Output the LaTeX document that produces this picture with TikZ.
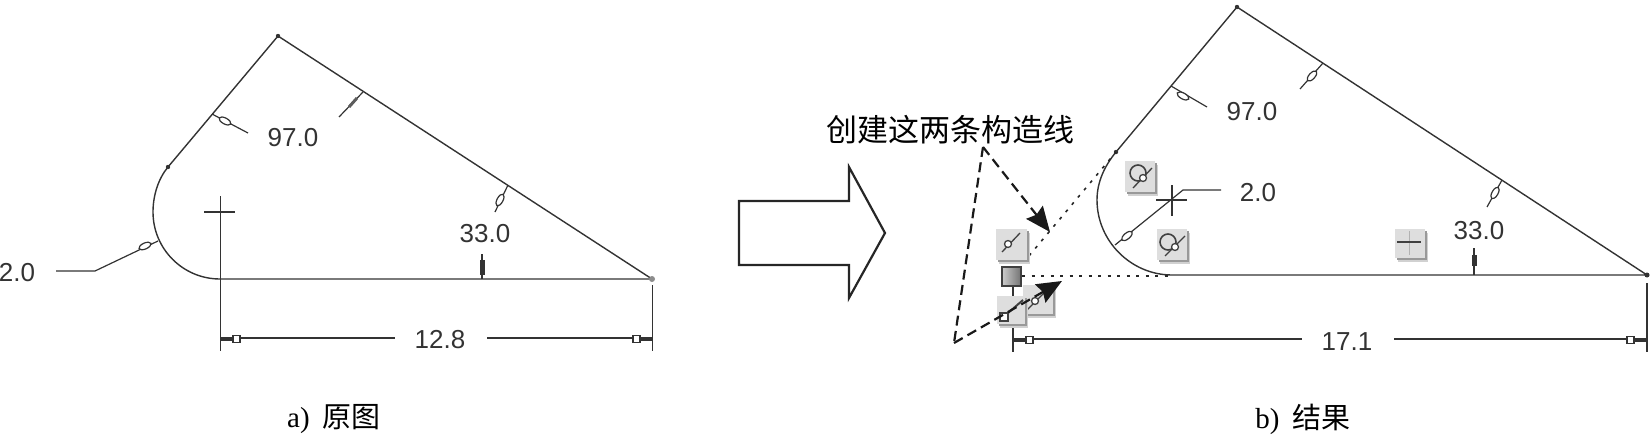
\documentclass[tikz,border=0pt]{standalone}
\usepackage{fontspec}
\setmainfont{Liberation Serif}
\newfontfamily\cadfont{Liberation Sans}
\newfontfamily\cjk{Noto Sans CJK SC}
\usetikzlibrary{arrows.meta}
\definecolor{cadline}{gray}{0.2}
\tikzset{
	outline/.style={line width=1.4pt, color=cadline},
	leader/.style={line width=1.2pt, color=cadline},
	cadtext/.style={font=\cadfont\fontsize{26}{30}\selectfont, color=cadline, inner sep=0pt},
	captext/.style={font=\fontsize{29}{34}\selectfont, inner sep=0pt},
	conline/.style={line width=1.6pt, color=black!85, dash pattern=on 3pt off 6.5pt},
	callout/.style={line width=2.2pt, color=black!90, dash pattern=on 10pt off 5.5pt},
	bigtip/.style={-{Stealth[length=25pt,width=21pt,inset=3pt]}},
	iconmark/.style={line width=1.3pt, color=black!75}
}
% small open mark on a leader
\def\openmark(#1,#2)[#3]{\draw[leader, fill=white, rotate around={-#3:(#1,#2)}] (#1,#2) ellipse (6.5 and 3);}
% grey icon with a soft shadow
\def\iconbox(#1,#2)(#3,#4){\fill[black!18] (#1+3,#2+4) rectangle (#3+3,#4+4); \fill[black!40] (#1+1.5,#2+2) rectangle (#3+1.5,#4+2); \fill[black!13] (#1,#2) rectangle (#3,#4);}
% dimension end: thick bar, then open box
\def\dimend(#1,#2)[#3]{\draw[line width=3pt, color=cadline] (#1,#2) -- ++(#3*12,0); \draw[leader, fill=white] (#1+#3*12,#2-3.5) rectangle (#1+#3*19,#2+3.5);}

\begin{document}
\begin{tikzpicture}[x=1pt, y=-1pt]
	\useasboundingbox (0,0) rectangle (1651,434);
	
	%%%%% a) %%%%%
	\draw[outline] (652,279) -- (278,36) -- (168,167) .. controls (158,179) and (153,196) .. (153,212) .. controls (153,249) and (183,279) .. (220,279) -- cycle;
	\fill[cadline] (278,36) circle (2.2);
	\fill[cadline] (168,167) circle (2.2);
	\fill[black!45] (652,279) circle (3);
	
	\draw[outline] (220.5,196) -- (220.5,351);
	\draw[outline] (204,212) -- (235,212);
	\draw[outline] (652.5,285) -- (652.5,351);
	\draw[leader] (221,338) -- (395,338);
	\draw[leader] (487,338) -- (652,338);
	\dimend(221,339)[1]
	\dimend(652,339)[-1]
	\node[cadtext] (lenA) at (440,340) {12.8};
	
	\draw[leader] (212,114) -- (248,133);
	\openmark(225,121)[28]
	\node[cadtext] (angA) at (293,138) {97.0};
	\draw[leader] (363,92) -- (339,117);
	\draw[line width=3pt, color=cadline!80] (357,98) -- (349,107);
	
	\draw[leader] (482,279) -- (482,254);
	\draw[line width=5pt, color=cadline] (482,260) -- (482,275);
	\node[cadtext] (angB) at (485,234) {33.0};
	\draw[leader] (508,185) -- (495,212);
	\openmark(500,200)[-62]
	
	\draw[leader] (56,271) -- (95,271) -- (158,241);
	\openmark(145,246)[-24]
	\node[cadtext] (radA) at (17,273) {2.0};
	
	\node[captext] (capA) at (334,419) {a)\hspace{0.45em}{\cjk 原图}};
	
	%%%%% ARROW %%%%%
	\draw[line width=2.2pt, color=black!85, line join=miter] (739,201) -- (849,201) -- (849,167) -- (885,233) -- (849,298) -- (849,265) -- (739,265) -- cycle;
	
	%%%%% b) %%%%%
	\draw[outline] (1647,275) -- (1237,7) -- (1116,152) .. controls (1104.5,166) and (1097,182) .. (1097,200) .. controls (1097,241) and (1131,275) .. (1172,275) -- cycle;
	\fill[cadline] (1237,7) circle (2.2);
	\fill[cadline] (1116,152) circle (2.2);
	\fill[cadline] (1647,275) circle (2.5);
	
	\draw[conline] (1022,276) -- (1172,276);
	\draw[conline] (1023,263) -- (1116,152);
	
	\draw[outline] (1013,285) -- (1013,352);
	\draw[outline] (1647,283) -- (1647,352);
	\draw[outline] (1156,200) -- (1187,200);
	\draw[outline] (1172,185) -- (1172,216);
	\draw[leader] (1013,339) -- (1302,339);
	\draw[leader] (1394,339) -- (1647,339);
	\dimend(1014,340)[1]
	\dimend(1646,340)[-1]
	\node[cadtext] (lenB) at (1347,342) {17.1};
	
	\draw[leader] (1171,86) -- (1207,107);
	\openmark(1183,96)[28]
	\node[cadtext] (angC) at (1252,112) {97.0};
	\draw[leader] (1323,63) -- (1300,89);
	\openmark(1312,76)[-48]
	
	\draw[leader] (1474,275) -- (1474,248);
	\draw[line width=5pt, color=cadline] (1474,255) -- (1474,266);
	\node[cadtext] (angD) at (1479,231) {33.0};
	\draw[leader] (1502,180) -- (1487,207);
	\openmark(1495,193)[-60]
	
	\draw[leader] (1221,190) -- (1183,190) -- (1115,245);
	\openmark(1127,236)[-40]
	\node[cadtext] (radB) at (1258,193) {2.0};
	
	% icons
	\iconbox(996,229)(1027,260)
	\draw[iconmark] (1002,252) -- (1020,233);
	\draw[iconmark, fill=white] (1008,244) circle (3.5);
	
	\draw[line width=2pt, color=black!75, left color=black!20, right color=black!55] (1002,267) rectangle (1021,286);
	
	\iconbox(1023,285)(1053,314)
	\draw[iconmark] (1027,310) -- (1045,292);
	\draw[iconmark, fill=white] (1035,301) circle (3.5);
	\iconbox(997,296)(1025,324)
	\draw[iconmark, line width=2pt] (1008,313) -- (1023,300);
	\draw[iconmark, fill=white] (1000,313) rectangle (1008,321);
	
	\iconbox(1125,161)(1155,192)
	\draw[iconmark, line width=1.6pt] (1138,173) circle (8);
	\draw[iconmark] (1133,188) -- (1152,168);
	\draw[iconmark, fill=white] (1143,178) circle (3.5);
	
	\iconbox(1157,229)(1187,260)
	\draw[iconmark, line width=1.6pt] (1168,242) circle (8);
	\draw[iconmark] (1165,256) -- (1185,236);
	\draw[iconmark, fill=white] (1175,247) circle (3.5);
	
	\iconbox(1395,229)(1425,258)
	\draw[line width=1pt, color=black!30] (1409,231) -- (1409,255);
	\draw[line width=1.8pt, color=black!75] (1397,242) -- (1421,242);
	
	% callout
	\node[inner sep=0pt, font=\cjk\fontsize{31}{36}\selectfont] (makeText) at (950,130) {创建这两条构造线};
	\coordinate (joinTop) at (983,147);
	\coordinate (joinLow) at (954,343);
	\coordinate (lineUp) at (1050,232);
	\coordinate (lineDown) at (1062,281);
	\draw[callout, bigtip] (joinTop) -- (lineUp);
	\draw[callout, line join=miter] (joinTop) -- (joinLow);
	\draw[callout, bigtip] (joinLow) -- (lineDown);
	
	\node[captext] (capB) at (1303,419) {b)\hspace{0.45em}{\cjk 结果}};
\end{tikzpicture}
\end{document}
